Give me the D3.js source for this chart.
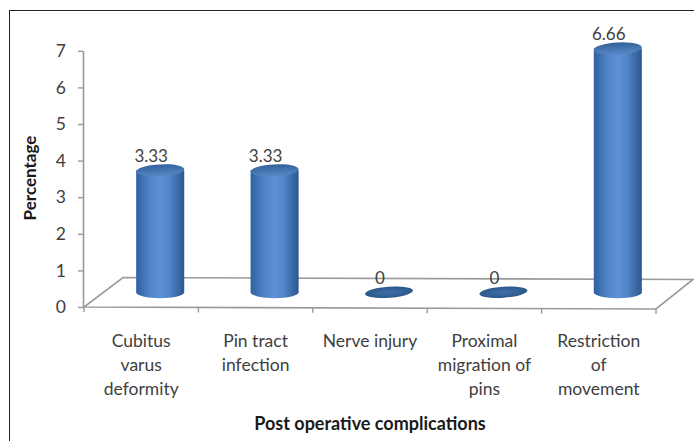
<!DOCTYPE html>
<html><head><meta charset="utf-8">
<script src="https://cdn.jsdelivr.net/npm/d3@7/dist/d3.min.js"></script>
<style>body{margin:0;background:#fff}svg{display:block}</style>
</head><body>
<svg id="c" width="694" height="441"></svg>
<script>
const categories = ["Cubitus varus deformity","Pin tract infection","Nerve injury","Proximal migration of pins","Restriction of movement"];
const labelLines = [["Cubitus","varus","deformity"],["Pin tract","infection"],["Nerve injury"],["Proximal","migration of","pins"],["Restriction","of","movement"]];
const values = [3.33, 3.33, 0, 0, 6.66];
const valueLabels = ["3.33","3.33","0","0","6.66"];
const yTicks = [0,1,2,3,4,5,6,7];

const svg = d3.select("#c");
const font = "Lato, 'Open Sans', sans-serif";
const textCol = "#404040";
const axisCol = "#9a9a9a";

// border
svg.append("rect").attr("x",9.5).attr("y",10.5).attr("width",720).attr("height",460)
  .attr("fill","none").attr("stroke","#222").attr("stroke-width",1);

const y = d3.scaleLinear().domain([0,7]).range([307,50.8]);
const x = d3.scaleBand().domain(categories).range([84,656]);
const depthX = 38, depthY = -29.5;

const defs = svg.append("defs");
const g1 = defs.append("linearGradient").attr("id","body").attr("x1","0").attr("x2","1").attr("y1","0").attr("y2","0");
[["0%","#30609e"],["30%","#5086c9"],["50%","#5d92d6"],["70%","#4f84c6"],["100%","#2c578e"]].forEach(([o,c])=>g1.append("stop").attr("offset",o).attr("stop-color",c));
const g2 = defs.append("linearGradient").attr("id","cap").attr("x1","0").attr("x2","0").attr("y1","0").attr("y2","1");
[["0%","#33609a"],["100%","#5688c8"]].forEach(([o,c])=>g2.append("stop").attr("offset",o).attr("stop-color",c));
const g3 = defs.append("radialGradient").attr("id","zero");
[["0%","#3f6fab"],["100%","#2c5889"]].forEach(([o,c])=>g3.append("stop").attr("offset",o).attr("stop-color",c));

// floor
const x0 = x.range()[0], x1 = x.range()[1], yb = y(0);
const floor = [[x0,yb],[x1,yb+2],[x1+depthX-1,yb+2+depthY],[x0+depthX+1,yb+depthY]];
svg.append("path").attr("d","M"+floor.map(p=>p.join(",")).join("L")+"Z")
  .attr("fill","none").attr("stroke",axisCol).attr("stroke-width",1.6);

// category tick marks on front edge
const edges = categories.map(c=>x(c)).concat([x1]);
svg.selectAll(".ct").data(edges).join("line")
  .attr("x1",d=>d).attr("x2",d=>d)
  .attr("y1",d=>yb+2*(d-x0)/(x1-x0)).attr("y2",d=>yb+2*(d-x0)/(x1-x0)+5)
  .attr("stroke",axisCol).attr("stroke-width",1.4);

// y axis
const ax = svg.append("g").attr("transform",`translate(${x0-1},0)`)
  .call(d3.axisLeft(y).tickValues(yTicks).tickFormat(d3.format("d")).tickSize(5).tickSizeOuter(0).tickPadding(12));
ax.select(".domain").attr("stroke",axisCol).attr("stroke-width",1.6);
ax.selectAll(".tick line").attr("stroke",axisCol).attr("stroke-width",1.4);
ax.selectAll(".tick text").attr("font-family",font).attr("font-size",17.5).attr("fill",textCol);

// cylinders
const rx = x.bandwidth()*0.21, ry = 6;
const cx = c => x(c) + x.bandwidth()/2 + depthX/2;
const yMid = v => y(v) + depthY/2;
const bars = svg.append("g");
categories.forEach((c,i)=>{
  const v = values[i], xc = cx(c), yB = yMid(0), yT = yMid(v);
  if (v > 0) {
    bars.append("path")
      .attr("d",`M${xc-rx},${yT}L${xc-rx},${yB}A${rx},${ry} 0 0 0 ${xc+rx},${yB}L${xc+rx},${yT}Z`)
      .attr("fill","url(#body)");
    bars.append("ellipse").attr("cx",xc).attr("cy",yT).attr("rx",rx).attr("ry",ry)
      .attr("fill","url(#cap)").attr("transform",`rotate(-3,${xc},${yT})`);
  } else {
    bars.append("ellipse").attr("cx",xc).attr("cy",yB).attr("rx",rx).attr("ry",ry-0.5)
      .attr("fill","url(#zero)").attr("transform",`rotate(-4,${xc},${yB})`);
  }
  svg.append("text").attr("x",xc-9).attr("y",yT-ry-2).attr("text-anchor","middle")
    .attr("font-family",font).attr("font-size",17).attr("fill",textCol).text(valueLabels[i]);
});

// category labels
categories.forEach((c,i)=>{
  const t = svg.append("text").attr("text-anchor","middle").attr("font-family",font)
    .attr("font-size",17.5).attr("fill",textCol);
  labelLines[i].forEach((l,j)=>t.append("tspan").attr("x",x(c)+x.bandwidth()/2).attr("y",347+j*24).text(l));
});

// axis titles
svg.append("text").attr("x",(x0+x1)/2).attr("y",430).attr("text-anchor","middle")
  .attr("font-family",font).attr("font-weight","bold").attr("font-size",18).attr("fill","#1a1a1a")
  .text("Post operative complications");
svg.append("text").attr("transform","translate(36,178) rotate(-90)").attr("text-anchor","middle")
  .attr("font-family",font).attr("font-weight","bold").attr("font-size",17).attr("fill","#1a1a1a")
  .text("Percentage");
</script>
</body></html>
